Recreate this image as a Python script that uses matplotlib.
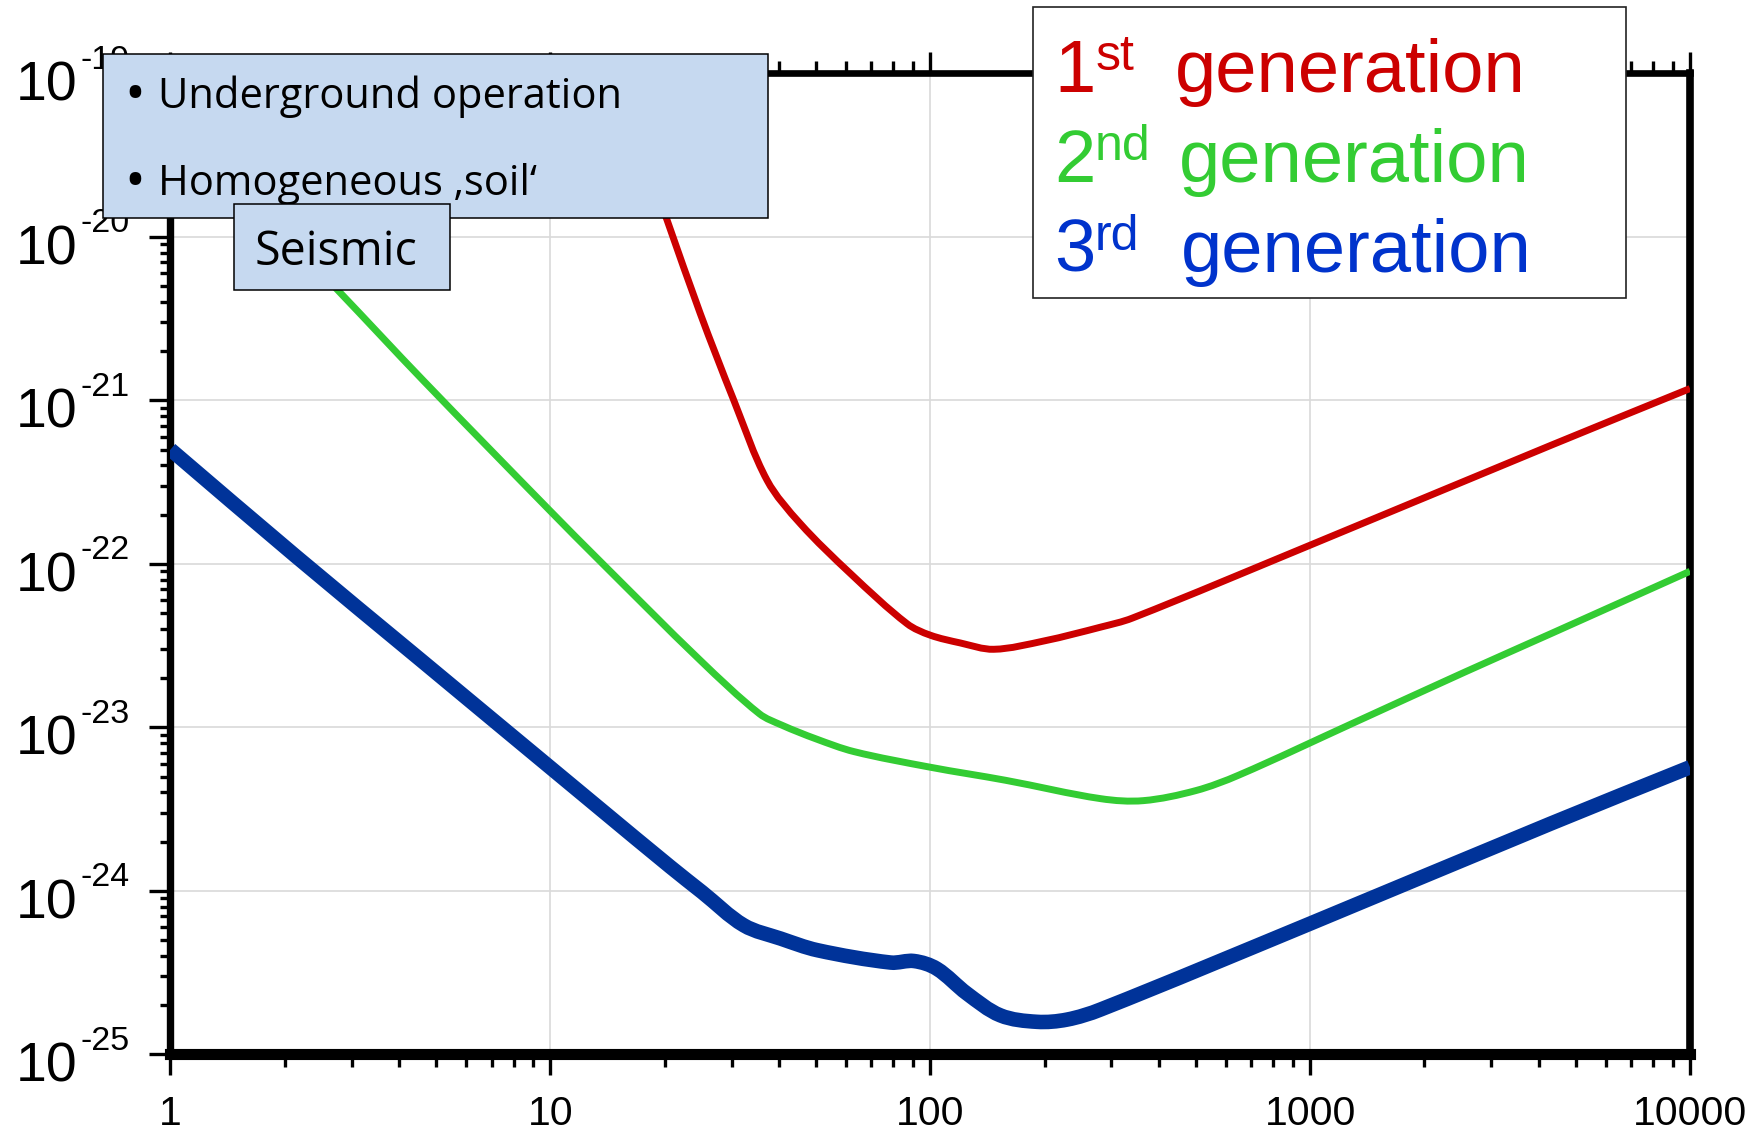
import numpy as np
import matplotlib
matplotlib.use('Agg')
import matplotlib.pyplot as plt
from matplotlib.patches import Rectangle, PathPatch
from matplotlib.path import Path
from matplotlib.ticker import LogLocator, NullFormatter

plt.rcParams['font.family'] = ['Liberation Sans', 'DejaVu Sans']

# strain sensitivity curves, frequency in Hz
freq_1st = [15, 20.3, 24.8, 30.4, 37.2, 45.5, 61.7, 86.9, 100, 120, 147, 200,
            281, 340, 1000, 4300, 10000]
h_1st = [9.0e-20, 1.26e-20, 3.4e-21, 1.0e-21, 3.24e-22, 1.76e-22, 8.7e-23,
         4.3e-23, 3.66e-23, 3.28e-23, 3.0e-23, 3.38e-23, 4.1e-23, 4.65e-23,
         1.3e-22, 5.3e-22, 1.18e-21]

freq_2nd = [1, 2.76, 4.63, 10, 13.5, 24.8, 35.5, 40.7, 50, 63, 100, 158, 281,
            364, 500, 649, 1285, 2547, 4305, 10000]
h_2nd = [5.5e-20, 4.7e-21, 1.32e-21, 2.1e-22, 1.04e-22, 2.57e-23, 1.21e-23,
         1.03e-23, 8.5e-24, 7.1e-24, 5.7e-24, 4.74e-24, 3.66e-24, 3.56e-24,
         4.1e-24, 5.1e-24, 1.05e-23, 2.17e-23, 3.74e-23, 9.0e-23]

freq_3rd = [1, 2.13, 4.54, 13.5, 20.7, 25.1, 32.3, 40.4, 50.5, 78.7, 90.6, 104,
            125, 153, 191, 229, 281, 1000, 4305, 10000]
h_3rd = [5.0e-22, 1.12e-22, 2.6e-23, 3.18e-24, 1.4e-24, 9.8e-25, 6.15e-25,
         5.1e-25, 4.33e-25, 3.64e-25, 3.72e-25, 3.34e-25, 2.35e-25, 1.73e-25,
         1.58e-25, 1.63e-25, 1.88e-25, 6.3e-25, 2.58e-24, 5.7e-24]

x_ticks = [1, 10, 100, 1000, 10000]
x_labels = ['1', '10', '100', '1000', '10000']
y_exps = [-25, -24, -23, -22, -21, -20, -19]

gen_digits = ['1', '2', '3']
gen_suffix = ['st', 'nd', 'rd']
gen_colors = ['#cc0000', '#33cc33', '#0033cc']
bullets = ['Underground operation', 'Homogeneous \u201asoil\u2018']

W, H = 1765, 1131
fig = plt.figure(figsize=(W / 100, H / 100), dpi=100)
ax = fig.add_axes([170.5 / W, 1 - 1054.3 / H, 1519.5 / W, 981.0 / H])


def fx(x):
    return x / W


def fy(y):
    return 1 - y / H


ax.set_xscale('log')
ax.set_yscale('log')
ax.set_xlim(1, 1e4)
ax.set_ylim(1e-25, 1e-19)


def smooth_line(xs, ys, color, lw, z):
    # cubic bezier through every point, tangents taken from the neighbours
    pts = ax.transData.transform(np.column_stack([xs, ys]))
    n = len(pts)
    tang = []
    for i in range(n):
        d = pts[min(i + 1, n - 1)] - pts[max(i - 1, 0)]
        tang.append(d / np.hypot(*d))
    verts = [pts[0]]
    codes = [Path.MOVETO]
    for i in range(n - 1):
        seg = np.hypot(*(pts[i + 1] - pts[i])) / 3
        verts += [pts[i] + tang[i] * seg, pts[i + 1] - tang[i + 1] * seg, pts[i + 1]]
        codes += [Path.CURVE4] * 3
    data = ax.transData.inverted().transform(np.array(verts))
    ax.add_patch(PathPatch(Path(data, codes), facecolor='none', edgecolor=color,
                           lw=lw, joinstyle='round', capstyle='butt', zorder=z))


smooth_line(freq_1st, h_1st, '#cc0000', 5, 3)
smooth_line(freq_2nd, h_2nd, '#33cc33', 5, 3)
smooth_line(freq_3rd, h_3rd, '#003399', 10.5, 4)

ax.grid(True, which='major', color='#d9d9d9', lw=1.2)
ax.set_axisbelow(True)

ax.spines['bottom'].set_linewidth(8)
ax.spines['left'].set_linewidth(5.3)
ax.spines['top'].set_linewidth(4.8)
ax.spines['right'].set_linewidth(5.5)

ax.set_xticks(x_ticks, labels=x_labels)
ax.xaxis.set_minor_locator(LogLocator(base=10, subs=range(2, 10), numticks=20))
ax.xaxis.set_minor_formatter(NullFormatter())
ax.yaxis.set_major_locator(LogLocator(base=10, numticks=20))
ax.yaxis.set_minor_locator(LogLocator(base=10, subs=range(2, 10), numticks=20))
ax.yaxis.set_minor_formatter(NullFormatter())

ax.tick_params(axis='x', which='both', direction='out', top=True, bottom=True,
               width=2.4, labelsize=29.5, pad=14)
ax.tick_params(axis='x', which='major', length=15)
ax.tick_params(axis='x', which='minor', length=9)
ax.tick_params(axis='y', which='both', direction='out', left=True, right=False,
               width=2.4, labelleft=False)
ax.tick_params(axis='y', which='major', length=14.8)
ax.tick_params(axis='y', which='minor', length=7)

# decade labels drawn as base + raised exponent
ytr = ax.get_yaxis_transform()
for e in y_exps:
    ax.annotate('10', xy=(0, 10.0 ** e), xycoords=ytr, xytext=(-67.3, -19.6),
                textcoords='offset points', ha='right', va='baseline',
                fontsize=40, annotation_clip=False)
    ax.annotate(str(e), xy=(0, 10.0 ** e), xycoords=ytr, xytext=(-64.5, 3.2),
                textcoords='offset points', ha='left', va='baseline',
                fontsize=24.5, annotation_clip=False)

# note boxes in the upper left
box_fill = '#c6d9f0'
fig.add_artist(Rectangle((fx(103.3), fy(218.3)), (768.3 - 103.3) / W, (218.3 - 54) / H,
                         transform=fig.transFigure, facecolor=box_fill,
                         edgecolor='black', lw=1.1, zorder=10))
for text, base in zip(bullets, [108.3, 195]):
    fig.text(fx(124), fy(base + 4), '\u2022', fontsize=40, family='Open Sans',
             ha='left', va='baseline', zorder=11)
    fig.text(fx(158), fy(base), text, fontsize=30, family='Open Sans',
             ha='left', va='baseline', zorder=11)

fig.add_artist(Rectangle((fx(234.3), fy(290.4)), (450.2 - 234.3) / W, (290.4 - 204) / H,
                         transform=fig.transFigure, facecolor=box_fill,
                         edgecolor='black', lw=1.1, zorder=12))
fig.text(fx(255), fy(265), 'Seismic', fontsize=33.5, family='Open Sans',
         ha='left', va='baseline', zorder=13)

# generation key
fig.add_artist(Rectangle((fx(1033.2), fy(298.3)), (1626.3 - 1033.2) / W, (298.3 - 7.3) / H,
                         transform=fig.transFigure, facecolor='white',
                         edgecolor='#222222', lw=1.2, zorder=10))
digit_x = [1054, 1054, 1054]
suffix_x = [1096, 1095, 1095]
word_x = [1174.5, 1178.5, 1181]
for i in range(3):
    base = 91.7 + 90 * i
    c = gen_colors[i]
    fig.text(fx(digit_x[i]), fy(base), gen_digits[i], fontsize=53.5, color=c,
             ha='left', va='baseline', zorder=11)
    fig.text(fx(suffix_x[i]), fy(base - 21.7), gen_suffix[i], fontsize=36, color=c,
             ha='left', va='baseline', zorder=11)
    fig.text(fx(word_x[i]), fy(base), 'generation', fontsize=53.5, color=c,
             ha='left', va='baseline', zorder=11)

fig.savefig('out.png', dpi=100)
